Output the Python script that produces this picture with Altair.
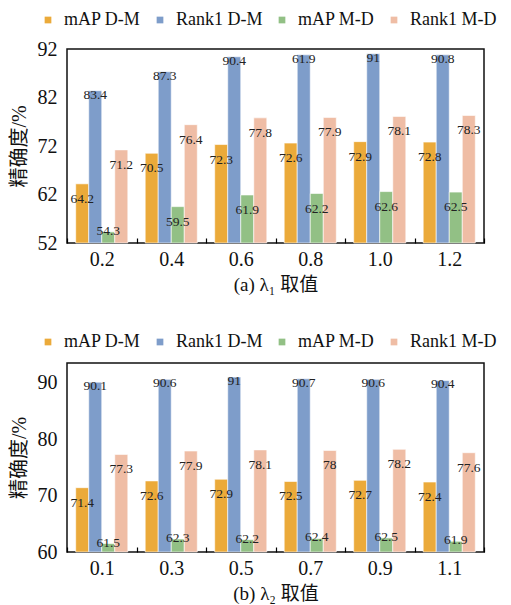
import altair as alt
import pandas as pd

series = ["mAP D-M", "Rank1 D-M", "mAP M-D", "Rank1 M-D"]
colors = ["#EBAA3A", "#7E9DCA", "#92C085", "#EFBDA5"]

lam1 = ["0.2", "0.4", "0.6", "0.8", "1.0", "1.2"]
a_map_dm = [64.2, 70.5, 72.3, 72.6, 72.9, 72.8]
a_rank1_dm = [83.4, 87.3, 90.4, 90.8, 91.0, 90.8]
a_rank1_dm_text = ["83.4", "87.3", "90.4", "61.9", "91", "90.8"]
a_map_md = [54.3, 59.5, 61.9, 62.2, 62.6, 62.5]
a_rank1_md = [71.2, 76.4, 77.8, 77.9, 78.1, 78.3]

lam2 = ["0.1", "0.3", "0.5", "0.7", "0.9", "1.1"]
b_map_dm = [71.4, 72.6, 72.9, 72.5, 72.7, 72.4]
b_rank1_dm = [90.1, 90.6, 91.0, 90.7, 90.6, 90.4]
b_map_md = [61.5, 62.3, 62.2, 62.4, 62.5, 61.9]
b_rank1_md = [77.3, 77.9, 78.1, 78.0, 78.2, 77.6]

FONT = "Liberation Serif, Noto Sans CJK SC, serif"


def make_df(cats, cols, texts, ymin):
    rows = []
    for s, vals in zip(series, cols):
        for i, (c, v) in enumerate(zip(cats, vals)):
            t = texts.get(s, [None] * len(cats))[i] or f"{v:g}"
            if v - ymin < 4:
                grp = "short"
            elif s == "Rank1 D-M":
                grp = "top"
            else:
                grp = "inside"
            rows.append({"cat": c, "series": s, "value": v, "label": t, "grp": grp})
    return pd.DataFrame(rows)


def panel(df, cats, xtitle, ydom, yticks, h, legend_y):
    x = alt.X("cat:N", sort=cats,
              scale=alt.Scale(paddingInner=0, paddingOuter=0),
              axis=alt.Axis(title=xtitle, labelAngle=0, domain=False,
                            tickBand="extent", ticks=True, tickSize=5,
                            tickColor="#000", tickWidth=1.2, offset=-5,
                            labelPadding=6, titlePadding=6))
    xo = alt.XOffset("series:N", sort=series,
                     scale=alt.Scale(domain=series, paddingOuter=0.667, paddingInner=0))
    y = alt.Y("value:Q",
              scale=alt.Scale(domain=ydom, nice=False, zero=False),
              axis=alt.Axis(values=yticks, title="精确度/%", grid=False,
                            ticks=False, domain=False, labelPadding=10,
                            titlePadding=8))
    color = alt.Color("series:N", sort=series,
                      scale=alt.Scale(domain=series, range=colors),
                      legend=alt.Legend(title=None, orient="none", direction="horizontal",
                                        columns=4, gridAlign="none",
                                        legendX=-28, legendY=legend_y,
                                        symbolType="square", symbolSize=45,
                                        symbolStrokeWidth=0, labelOffset=7,
                                        columnPadding=10, padding=0))
    base = alt.Chart(df)
    bars = base.mark_bar(stroke="white", strokeWidth=1, strokeOpacity=0.6).encode(
        x=x, xOffset=xo, y=y, y2=alt.datum(ydom[0]), color=color)
    layers = [bars]
    for grp, dy in [("inside", 15), ("top", 4), ("short", -1)]:
        layers.append(
            base.transform_filter(alt.datum.grp == grp)
            .mark_text(font=FONT, fontSize=13.5, color="#222", dy=dy, baseline="middle")
            .encode(x=x, xOffset=xo, y=y, text="label:N")
        )
    return alt.layer(*layers).properties(width=417, height=h)


df_a = make_df(lam1, [a_map_dm, a_rank1_dm, a_map_md, a_rank1_md],
               {"Rank1 D-M": a_rank1_dm_text}, 52)
df_b = make_df(lam2, [b_map_dm, b_rank1_dm, b_map_md, b_rank1_md], {}, 60)

top = panel(df_a, lam1, "(a) λ₁ 取值", [52, 92], [52, 62, 72, 82, 92], 194, -38)
bottom = panel(df_b, lam2, "(b) λ₂ 取值", [60, 93.5], [60, 70, 80, 90], 189, -30)

chart = (
    alt.vconcat(top, bottom, spacing=37)
    .resolve_scale(color="independent")
    .resolve_legend(color="independent")
    .configure(font=FONT)
    .configure_axis(labelFont=FONT, titleFont=FONT, labelFontSize=20,
                    titleFontSize=20, labelColor="#111", titleColor="#111",
                    titleFontWeight="normal")
    .configure_axisX(titleFontSize=19)
    .configure_legend(labelFont=FONT, labelFontSize=18, labelColor="#111")
    .configure_view(stroke="#111", strokeWidth=1.5)
    .properties(background="white", padding={"left": 0, "top": 2, "right": 0, "bottom": 0})
)

chart.save("out.html", embed_options={"renderer": "svg", "actions": False})
